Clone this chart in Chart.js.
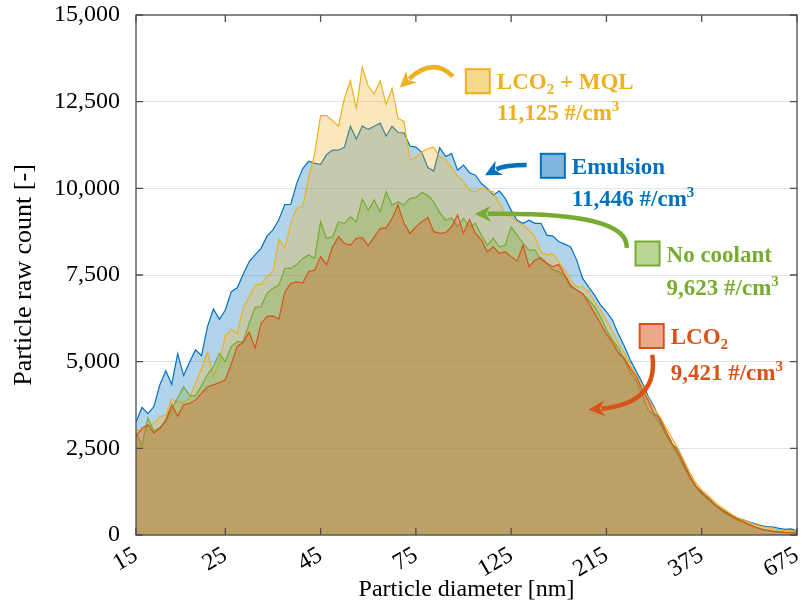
<!DOCTYPE html>
<html>
<head>
<meta charset="utf-8">
<script src="https://cdn.jsdelivr.net/npm/chart.js@4.4.0/dist/chart.umd.min.js"></script>
<style>
  html, body { margin: 0; padding: 0; background: #fff; }
  #wrap { width: 803px; height: 605px; }
</style>
</head>
<body>
<div id="wrap"><canvas id="chart" width="803" height="605"></canvas></div>
<script>
// size bins are plotted by channel number 1..112, labelled at a few channels
const tickPos = [1, 16, 32, 48, 64, 80, 96, 112];
const tickLabels = ["15", "25", "45", "75", "125", "215", "375", "675"];
const yTicks = [0, 2500, 5000, 7500, 10000, 12500, 15000];

const emulsion = [
  3250, 3680, 3500, 3700, 4330, 4740, 4350, 5230, 4600, 4990,
  5340, 5170, 6010, 6520, 6220, 6490, 7020, 7130, 7520, 7880,
  8080, 8270, 8620, 8800, 9100, 9530, 9540, 10150, 10570, 10780,
  10720, 10690, 10980, 11100, 11100, 11190, 11790, 11420, 11800, 11700,
  11790, 11880, 11510, 11790, 11610, 11600, 11220, 11190, 11030, 10600,
  10500, 11170, 10920, 11000, 10520, 10670, 10450, 10380, 10140, 10000,
  9800, 9930, 9710, 9370, 9080, 8990, 9080, 8990, 8990, 8650,
  8620, 8460, 8390, 8310, 7930, 7400, 7160, 6920, 6640, 6440,
  6200, 5800, 5450, 5050, 4720, 4400, 4000, 3700, 3300, 2900,
  2620, 2480, 2100, 1700, 1400, 1250, 1060, 900, 780, 680,
  560, 480, 440, 370, 320, 270, 245, 230, 190, 160,
  175, 120
];
const lco2Mql = [
  3050, 2990, 3130, 3220, 3420, 3450, 3930, 3840, 3820, 3950,
  4380, 4810, 5270, 4570, 5000, 5740, 5940, 5820, 6540, 6870,
  7220, 7230, 7450, 7600, 8530, 8290, 8990, 9430, 9470, 10300,
  11000, 12100, 12100, 11950, 11800, 12590, 13100, 12310, 13500, 12950,
  12720, 13100, 12420, 12880, 12020, 11930, 10810, 10900, 11050, 11150,
  11190, 10910, 10830, 10600, 10350, 10190, 9950, 9900, 10000, 9950,
  9900, 9560, 9280, 9180, 9040, 8940, 8800, 8600, 8170, 8080,
  8120, 7880, 7640, 7360, 7160, 7160, 7020, 6730, 6490, 6200,
  5870, 5530, 5250, 4900, 4600, 4300, 3950, 3650, 3400, 3100,
  2800, 2500, 2150, 1800, 1500, 1300, 1150, 980, 840, 720,
  600, 500, 430, 360, 300, 250, 210, 180, 150, 130,
  120, 110
];
const noCoolant = [
  2950, 2580, 3370, 3000, 3100, 3250, 3650, 3950, 4280, 4020,
  4020, 4300, 4620, 4860, 5240, 5000, 5440, 5580, 5580, 6110,
  6570, 6590, 6970, 7120, 7210, 7690, 7690, 7800, 7980, 8080,
  7980, 9030, 8560, 8600, 9030, 8990, 9180, 9030, 9690, 9370,
  9660, 9320, 9900, 9520, 9610, 9520, 9710, 9730, 9880, 9800,
  9610, 9300, 9080, 9150, 8890, 9130, 8900, 8990, 8650, 8360,
  8560, 8310, 8360, 8890, 8650, 8410, 8220, 8220, 7930, 7840,
  7650, 7600, 7450, 7160, 7070, 6950, 6780, 6590, 6300, 5920,
  5630, 5400, 5050, 4700, 4450, 4050, 3600, 3450, 3200, 2900,
  2600, 2300, 1950, 1650, 1380, 1180, 1030, 880, 740, 620,
  520, 430, 360, 280, 220, 170, 140, 110, 95, 80,
  75, 70
];
const lco2 = [
  2840, 3080, 3180, 2940, 3080, 3320, 3750, 3430, 3760, 3800,
  3890, 4090, 4270, 4330, 4400, 4480, 4930, 5440, 5560, 5850,
  5390, 6100, 6300, 6320, 6230, 7020, 7260, 7300, 7270, 7600,
  7640, 8030, 7790, 8310, 8600, 8410, 8360, 8560, 8580, 8340,
  8600, 8840, 8860, 9130, 9520, 8990, 8700, 8890, 9040, 9160,
  8750, 8700, 8720, 8890, 9230, 8700, 9100, 8700, 8510, 8170,
  8310, 8120, 8170, 8030, 7900, 8360, 7740, 7930, 8000, 7840,
  7740, 7800, 7500, 7200, 7070, 6970, 6700, 6400, 6100, 5800,
  5550, 5250, 5100, 4800, 4580, 4200, 3880, 3500, 3350, 3000,
  2650, 2380, 2050, 1690, 1420, 1220, 1090, 920, 780, 650,
  560, 460, 390, 300, 230, 170, 130, 105, 85, 75,
  70, 60
];

const seriesNames = ["LCO\u2082", "No coolant", "LCO\u2082 + MQL", "Emulsion"];
const totals = ["9,421", "9,623", "11,125", "11,446"];

const serif = "'Liberation Serif', 'Times New Roman', serif";
const toPoints = arr => arr.map((v, k) => ({ x: k + 1, y: v }));

function area(label, values, rgb, order) {
  return {
    label: label,
    data: toPoints(values),
    borderColor: "rgb(" + rgb + ")",
    backgroundColor: "rgba(" + rgb + ",0.3)",
    borderWidth: 1.2,
    pointRadius: 0,
    tension: 0,
    fill: "origin",
    order: order
  };
}

// text callouts, placed in data units (channel, count)
const notes = [
  { parts: [["LCO"], ["2", "sub"], [" + MQL"]], total: totals[2], color: "#EDB120", face: "#F6D88F",
    at: [58.4, 13090], valueDy: 39,
    arrow: [[54.2, 13230], [50.9, 13790], [45.3, 12910]] },
  { parts: [["Emulsion"]], total: totals[3], color: "#0072BD", face: "#7FB8DE",
    at: [71.0, 10650], valueDy: 40,
    arrow: [[66.6, 10670], [62.9, 10670], [59.6, 10380]] },
  { parts: [["No coolant"]], total: totals[1], color: "#77AC30", face: "#BBD597",
    at: [86.9, 8120], valueDy: 41,
    arrow: [[83.4, 8280], [83.8, 9330], [57.9, 9260]] },
  { parts: [["LCO"], ["2", "sub"]], total: totals[0], color: "#D95319", face: "#ECA98C",
    at: [87.6, 5740], valueDy: 44,
    arrow: [[87.7, 5200], [88.8, 3800], [77.0, 3610]] }
];

function drawRich(ctx, x, y, parts) {
  parts.forEach(p => {
    const kind = p[1];
    if (kind === "sub") {
      ctx.font = "bold 15px " + serif;
      ctx.fillText(p[0], x, y + 5);
    } else if (kind === "sup") {
      ctx.font = "bold 15px " + serif;
      ctx.fillText(p[0], x, y - 9);
    } else {
      ctx.font = "bold 23px " + serif;
      ctx.fillText(p[0], x, y);
    }
    x += ctx.measureText(p[0]).width;
  });
}

const framePlugin = {
  id: "frame",
  afterDraw(chart) {
    const { ctx, chartArea: a, scales: { x, y } } = chart;
    ctx.save();
    // box and inward ticks
    ctx.strokeStyle = "#4d4d4d";
    ctx.lineWidth = 1.3;
    ctx.strokeRect(a.left, a.top, a.right - a.left, a.bottom - a.top);
    ctx.beginPath();
    const tl = 7;
    yTicks.forEach(v => {
      const py = y.getPixelForValue(v);
      ctx.moveTo(a.left, py); ctx.lineTo(a.left + tl, py);
      ctx.moveTo(a.right, py); ctx.lineTo(a.right - tl, py);
    });
    tickPos.forEach(v => {
      const px = x.getPixelForValue(v);
      ctx.moveTo(px, a.bottom); ctx.lineTo(px, a.bottom - tl);
      ctx.moveTo(px, a.top); ctx.lineTo(px, a.top + tl);
    });
    ctx.stroke();

    // callouts
    notes.forEach(n => {
      const cx = x.getPixelForValue(n.at[0]);
      const cy = y.getPixelForValue(n.at[1]);
      ctx.fillStyle = n.face;
      ctx.fillRect(cx - 12, cy - 12, 24, 24);
      ctx.strokeStyle = n.color;
      ctx.lineWidth = 2;
      ctx.strokeRect(cx - 12, cy - 12, 24, 24);

      ctx.fillStyle = n.color;
      ctx.textAlign = "left";
      ctx.textBaseline = "alphabetic";
      drawRich(ctx, cx + 19, cy + 8, n.parts);
      drawRich(ctx, cx + 19, cy + n.valueDy, [[n.total + " #/cm"], ["3", "sup"]]);

      const p0 = [x.getPixelForValue(n.arrow[0][0]), y.getPixelForValue(n.arrow[0][1])];
      const c = [x.getPixelForValue(n.arrow[1][0]), y.getPixelForValue(n.arrow[1][1])];
      const p2 = [x.getPixelForValue(n.arrow[2][0]), y.getPixelForValue(n.arrow[2][1])];
      const ang = Math.atan2(p2[1] - c[1], p2[0] - c[0]);
      const head = 16, half = 8;
      const end = [p2[0] - Math.cos(ang) * head * 0.8, p2[1] - Math.sin(ang) * head * 0.8];
      ctx.beginPath();
      ctx.moveTo(p0[0], p0[1]);
      ctx.quadraticCurveTo(c[0], c[1], end[0], end[1]);
      ctx.lineWidth = 4.5;
      ctx.lineCap = "butt";
      ctx.stroke();
      ctx.beginPath();
      ctx.moveTo(p2[0], p2[1]);
      ctx.lineTo(p2[0] - Math.cos(ang) * head + Math.sin(ang) * half,
                 p2[1] - Math.sin(ang) * head - Math.cos(ang) * half);
      ctx.lineTo(p2[0] - Math.cos(ang) * head * 0.7, p2[1] - Math.sin(ang) * head * 0.7);
      ctx.lineTo(p2[0] - Math.cos(ang) * head - Math.sin(ang) * half,
                 p2[1] - Math.sin(ang) * head + Math.cos(ang) * half);
      ctx.closePath();
      ctx.fill();
    });
    ctx.restore();
  }
};

new Chart(document.getElementById("chart"), {
  type: "line",
  data: {
    datasets: [
      area(seriesNames[0], lco2, "217,83,25", 1),
      area(seriesNames[1], noCoolant, "119,172,48", 2),
      area(seriesNames[2], lco2Mql, "237,177,32", 3),
      area(seriesNames[3], emulsion, "0,114,189", 4)
    ]
  },
  options: {
    responsive: false,
    animation: false,
    devicePixelRatio: 1,
    layout: { padding: { left: 0, right: 6, top: 15, bottom: 0 } },
    plugins: { legend: { display: false }, tooltip: { enabled: false } },
    scales: {
      x: {
        type: "linear",
        min: 1,
        max: 112,
        afterBuildTicks: s => { s.ticks = tickPos.map(v => ({ value: v })); },
        afterFit: s => { s.height = 70; s.paddingLeft = 0; s.paddingRight = 0; },
        grid: { display: false, drawTicks: false },
        border: { display: false },
        ticks: {
          callback: v => tickLabels[tickPos.indexOf(v)],
          minRotation: 30,
          maxRotation: 30,
          padding: 6,
          color: "#000",
          font: { family: serif, size: 24 }
        },
        title: {
          display: true,
          text: "Particle diameter [nm]",
          color: "#000",
          font: { family: serif, size: 24, lineHeight: 1.2 },
          padding: { top: 0, bottom: 1 }
        }
      },
      y: {
        min: 0,
        max: 15000,
        afterFit: s => { s.width = 136; s.paddingTop = 0; s.paddingBottom = 0; },
        grid: { color: "#e3e3e3", lineWidth: 1, drawTicks: false },
        border: { display: false },
        ticks: {
          stepSize: 2500,
          padding: 16,
          color: "#000",
          font: { family: serif, size: 24 },
          callback: v => v.toLocaleString("en-US")
        },
        title: {
          display: true,
          text: "Particle raw count [-]",
          color: "#000",
          font: { family: serif, size: 26, lineHeight: 1.2 },
          padding: { top: 9, bottom: 0 }
        }
      }
    }
  },
  plugins: [framePlugin]
});
</script>
</body>
</html>
